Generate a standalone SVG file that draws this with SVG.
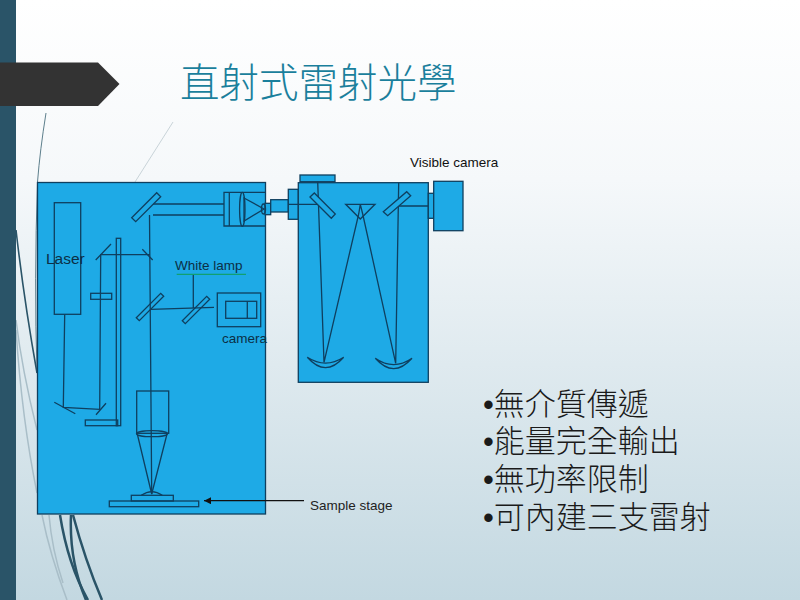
<svg xmlns="http://www.w3.org/2000/svg" width="800" height="600" viewBox="0 0 800 600">
<style>
.b{fill:#1eaae6;stroke:#0f3f5f;stroke-width:1.3}
.l{fill:none;stroke:#0f3f5f;stroke-width:1.3}
.t{font-family:"Liberation Sans",Arial,sans-serif;fill:#0c2f45;font-size:13.5px}
.c{font-family:"Noto Sans CJK TC",sans-serif;font-size:31px;fill:#1a1a1a;font-weight:300}
.s{font-family:"Liberation Sans",sans-serif}
.d{fill:none;stroke:#2a5468;stroke-width:2.5}
.g{fill:none;stroke:#a9bec8;stroke-width:1.5}
</style>
<defs>
<linearGradient id="bg" x1="0" y1="0" x2="0" y2="1"><stop offset="0" stop-color="#fff"/><stop offset=".3" stop-color="#f5f8fa"/><stop offset="1" stop-color="#c3d8e1"/></linearGradient>
<marker id="ah" markerUnits="userSpaceOnUse" markerWidth="7" markerHeight="7" refX="7" refY="3.5" orient="auto"><path d="M0 0L7 3.5L0 7z" fill="#111"/></marker>
</defs>
<rect width="800" height="600" fill="url(#bg)"/>
<g id="decor">
<path d="M46 113Q40 150 37.5 182Q34 280 37 373" fill="none" stroke="#5d7f8c" stroke-width="1"/>
<path d="M173 122L135 182" fill="none" stroke="#c9d4d9" stroke-width="1"/>
<path d="M16 230Q24 300 37 373" fill="none" stroke="#2a5468" stroke-width="1.6"/>
<path class="g" d="M16 330Q22 420 37 493"/>
<path class="g" d="M16 320Q22 370 37 430"/>
<path class="g" d="M42 515Q50 555 67 600"/>
<path class="g" d="M49 515Q52 550 63 583"/>
<path class="d" d="M60 515Q68 565 88 600"/>
<path class="d" d="M71 515Q69 560 86 600"/>
<path class="d" d="M73 515Q85 560 102 600"/>
</g>
<rect width="16" height="600" fill="#2a5468"/>
<path id="tab" d="M0 62.5H98L119.5 84L98 106H0z" fill="#333"/>
<text id="title" x="180" y="97" font-family="'Noto Sans CJK TC',sans-serif" font-weight="300" font-size="39.5" fill="#1a7f9c">直射式雷射光學</text>
<g id="microscope-body"><rect class="b" x="37.5" y="182.5" width="228" height="331.5"/></g>
<g id="coupler"><rect class="b" x="265" y="203.3" width="5.7" height="11.4"/><rect class="b" x="270.7" y="199.7" width="17.6" height="12.3"/><rect class="b" x="288.3" y="189.3" width="10" height="30"/></g>
<g id="spectrometer"><rect class="b" x="298.3" y="182.7" width="130" height="199.6"/><rect class="b" x="300" y="175" width="35" height="6.7"/></g>
<g id="connectors">
<path class="l" d="M64.7 314.3L63.3 407.3L99.7 409.3L100.7 254.7H150M153 204H224M153 215H224M149.5 215L151.7 494"/>
<path class="l" d="M54.3 402.3L75.3 413.7M96 414.7L106 403.3M95.7 260L111 244M142.3 249.3L152.7 260"/>
<path class="l" d="M150.7 309.3L214 307.3M193.3 274.3V308.3"/>
<path d="M176.7 274.3H246" stroke="#12a070" stroke-width="1.2" fill="none"/>
<path class="l" d="M288.3 204.3H317M317.7 181.7L324 362.3L358.7 214M362.7 214L395.7 363.3L398.7 182.7M398.7 206H428.3M360.3 204.3L358.7 214M360.3 204.3L362.7 214"/>
<path d="M304 500.7H204" stroke="#111" stroke-width="1.3" fill="none" marker-end="url(#ah)"/>
</g>
<g id="laser"><rect class="l" x="54.3" y="202.7" width="26.4" height="111.6"/><text class="t" x="46" y="264" style="font-size:15.5px">Laser</text></g>
<g id="optics">
<rect class="l" x="116.3" y="238.3" width="4.4" height="187.4"/>
<rect class="l" x="85.3" y="420" width="32.4" height="5.7"/>
<rect class="l" x="90.7" y="293.3" width="21" height="6"/>
<path class="b" d="M131.7 217.7L156.7 192.7L160.7 196.7L135.7 221.7z"/>
<path class="l" d="M136.3 317.7L160.7 293.3L163.7 296.3L139.3 320.7z"/>
<path class="l" d="M182.3 320.7L206.7 296.3L209.7 299.3L185.3 323.7z"/>
</g>
<g id="lens-assembly">
<path class="l" d="M265.7 192.3H224V226H265.7M229.3 192.3V226"/>
<ellipse class="l" cx="242.3" cy="209.3" rx="2.7" ry="17"/>
<path class="l" d="M244 198L264 209L244 221z"/>
<ellipse class="l" cx="263.5" cy="209" rx="2" ry="5"/>
</g>
<g id="white-lamp"><text class="t" x="175" y="270">White lamp</text></g>
<g id="camera"><rect class="l" x="217.3" y="293" width="43.4" height="33.7"/><rect class="l" x="225.7" y="301.3" width="31" height="17"/><path class="l" d="M247.3 301.3V318.3"/><text class="t" x="222" y="343">camera</text></g>
<g id="objective"><rect class="l" x="136.7" y="391" width="32" height="42.3"/><ellipse class="l" cx="152" cy="433.7" rx="15.5" ry="3"/><path class="l" d="M137.3 434L151.7 494L167 434"/></g>
<g id="stage"><path class="l" d="M141.3 495.3Q151.8 488 162.3 495.3"/><rect class="l" x="131.3" y="495.3" width="42" height="5.7"/><rect class="l" x="109.3" y="501" width="89.4" height="5.7"/></g>
<g id="spectrometer-optics">
<path class="b" d="M310 197L314.3 193L335.3 214L331.3 218.3z"/>
<path class="b" d="M383.3 211.7L406.7 191.7L410.7 195.7L387.7 215.7z"/>
<path class="l" d="M345.7 204.3H375L360.3 219z"/>
<path class="l" d="M307.3 357.3Q325.5 369 343.7 357.3Q325.5 378 307.3 357.3z"/>
<path class="l" d="M375.3 358.3Q393.6 371 412 358.3Q393.6 379 375.3 358.3z"/>
</g>
<g id="visible-camera"><rect class="b" x="428.3" y="193.3" width="5.4" height="25"/><rect class="b" x="433.7" y="181.3" width="29.3" height="49.4"/><text class="t" x="410" y="167" style="fill:#111">Visible camera</text></g>
<text id="sample-stage-label" class="t" x="310" y="510" style="fill:#222">Sample stage</text>
<g id="bullets">
<text class="c" x="483" y="415"><tspan class="s">•</tspan>無介質傳遞</text>
<text class="c" x="483" y="452"><tspan class="s">•</tspan>能量完全輸出</text>
<text class="c" x="483" y="490"><tspan class="s">•</tspan>無功率限制</text>
<text class="c" x="483" y="528"><tspan class="s">•</tspan>可內建三支雷射</text>
</g>
</svg>
